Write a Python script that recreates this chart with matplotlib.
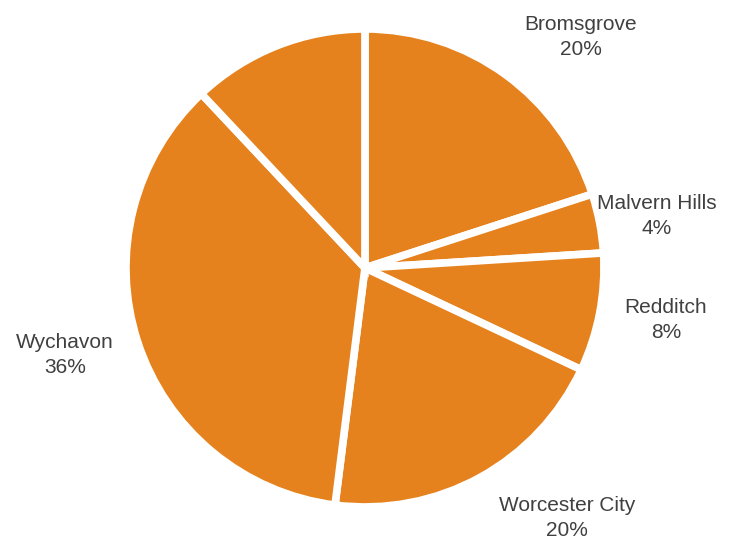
import matplotlib
matplotlib.use('Agg')
import matplotlib.pyplot as plt

# district shares (%) - last slice has no label in the original
districts = ['Bromsgrove', 'Malvern Hills', 'Redditch', 'Worcester City', 'Wychavon', '']
shares = [20, 4, 8, 20, 36, 12]

# label centre positions in pie units (radius = 1)
label_xy = [(0.904, 0.967), (1.222, 0.218), (1.259, -0.218),
            (0.845, -1.046), (-1.255, -0.364), None]

plt.rcParams['font.family'] = ['Liberation Sans', 'DejaVu Sans']

fig = plt.figure(figsize=(7.5, 5.39), dpi=100)
ax = fig.add_axes([0, 0, 1, 1])

wedges, _ = ax.pie(shares, startangle=90, counterclock=False, radius=1.0,
                   colors=['#E6821E'] * len(shares),
                   wedgeprops=dict(edgecolor='white', linewidth=5.5))

for name, val, xy in zip(districts, shares, label_xy):
    if xy is None:
        continue
    ax.text(xy[0], xy[1], '%s\n%d%%' % (name, val), ha='center', va='center',
            fontsize=15, color='#404040', linespacing=1.4)

ax.set_xlim(-1.527, 1.611)
ax.set_ylim(-1.134, 1.121)
ax.set_aspect('equal')
ax.axis('off')

fig.savefig('out.png', dpi=100)
